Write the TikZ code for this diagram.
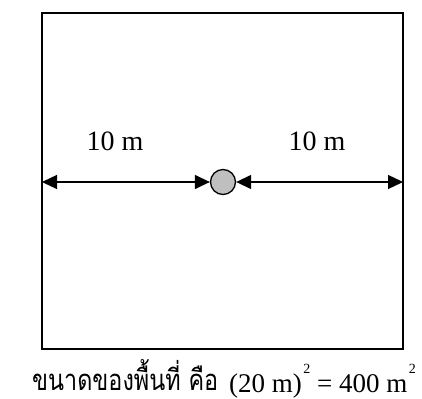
\documentclass[tikz,border=0pt]{standalone}
\usepackage{fontspec}
\setmainfont{Liberation Serif}
\newfontfamily\thaifont[Script=Thai]{Loma}
\usetikzlibrary{arrows.meta}
\newcommand{\supii}{\kern1.5pt\raisebox{19pt}{\fontsize{14}{14}\selectfont 2}}
\tikzset{
  dimline/.style={line width=1.3pt, {Triangle[length=15pt,width=14pt]}-{Triangle[length=15pt,width=14pt]}},
  lbl/.style={font=\fontsize{28}{32}\selectfont, inner sep=0pt}
}
\begin{document}
\begin{tikzpicture}[x=1pt,y=-1pt]
\useasboundingbox (0,0) rectangle (422,398);
\draw[line width=1.6pt] (42,13) rectangle (403,349);
\node[circle, draw, fill=black!25, minimum size=25pt, inner sep=0pt, line width=1.3pt] (c) at (223,182) {};
\coordinate (L) at (42,182);
\coordinate (R) at (403,182);
\draw[dimline] (L) -- (c);
\draw[dimline] (c) -- (R);
\node[lbl, anchor=base] (t1) at (115,150) {10 m};
\node[lbl, anchor=base] (t2) at (317,150) {10 m};
\node[inner sep=0pt, anchor=base west] (capth) at (32,390) {\resizebox{186pt}{31pt}{\fontsize{28}{30}\selectfont\thaifont ขนาดของพื้นที่ คือ}};
\node[inner sep=0pt, anchor=base west, font=\fontsize{27}{30}\selectfont] (capmath) at (229,392) {(20 m)\supii{} = 400 m\supii};
\end{tikzpicture}
\end{document}
